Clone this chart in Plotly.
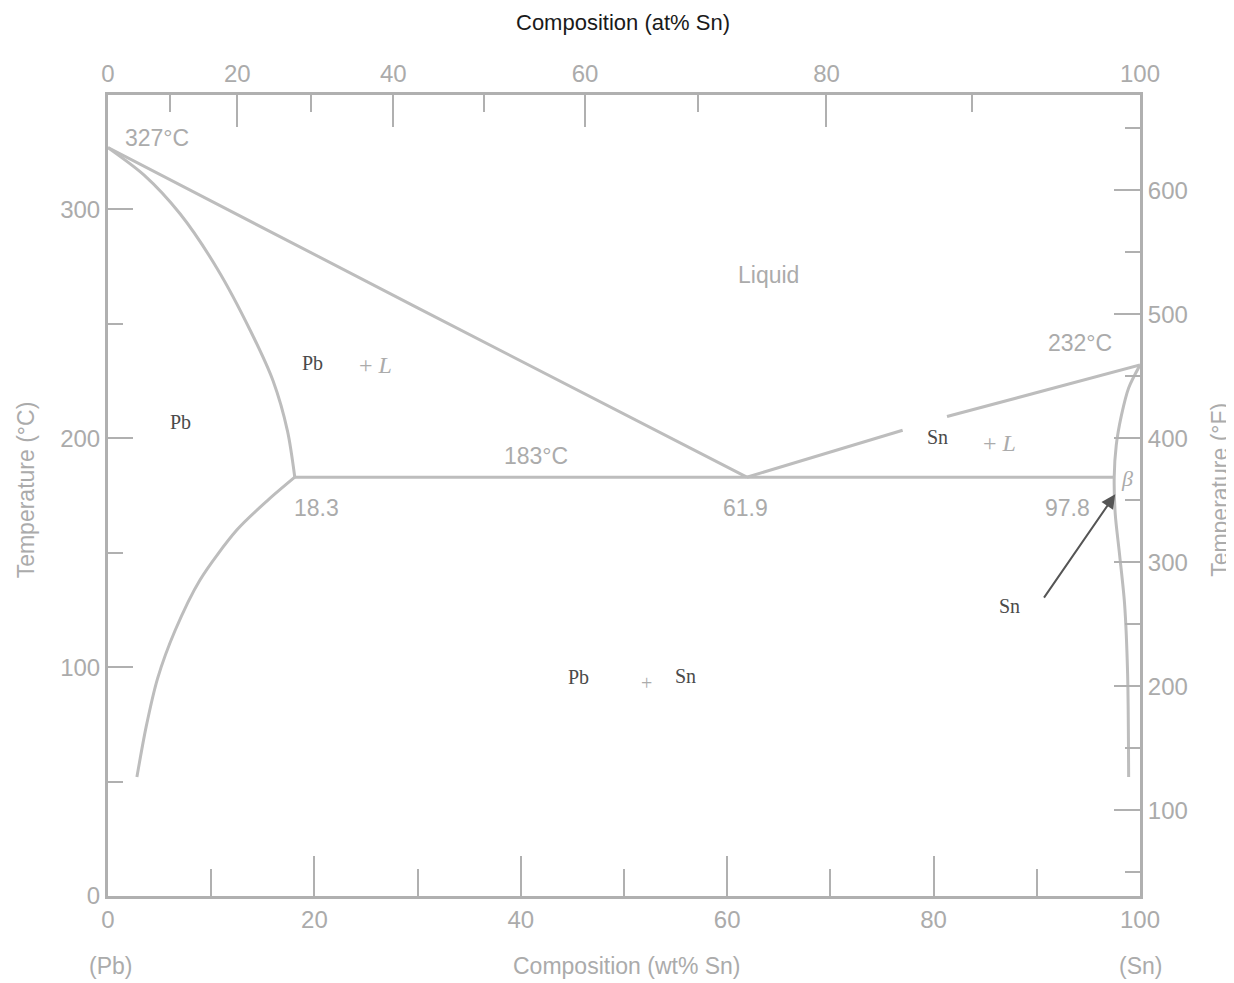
import plotly.graph_objects as go

# ---------------- data (wt% Sn, temperature °C) ----------------
liq_left_x = [0, 30, 61.9]
liq_left_t = [327, 257, 183]

sol_left_x = [0, 3.5, 7.0, 10.6, 13.8, 16.0, 17.4, 18.1]
sol_left_t = [327, 315, 298, 274, 247, 225, 203, 183]

solvus_left_x = [18.1, 15.5, 12.5, 8.9, 6.5, 4.8, 3.7, 2.8]
solvus_left_t = [183, 173, 160, 138, 116, 95, 74, 52]

eutectic_x = [18.1, 97.5]
eutectic_t = [183, 183]

liq_right_x = [61.9, 77, None, 81.3, 100]
liq_right_t = [183, 203.5, None, 209.5, 232]

sn_curve_x = [100, 98.9, 98.2, 97.7, 97.5, 97.6, 98.0, 98.5, 98.8, 98.9]
sn_curve_t = [232, 222, 210, 197, 183, 167, 150, 128, 97, 52]

at_pct_ticks = [0, 20, 40, 60, 80, 100]
at_pct_minor = [10, 30, 50, 70, 90]
M_SN, M_PB = 118.71, 207.2

degF_ticks = [100, 200, 300, 400, 500, 600]

def at_to_wt(a):
    return 100.0 * a * M_SN / (a * M_SN + (100 - a) * M_PB)

LINE = "#bdbdbd"
AXIS = "#b0b0b0"
TXT = "#ababab"
DARK = "#4a4a4a"

fig = go.Figure()
for xs, ts, shape in [(liq_left_x, liq_left_t, "linear"), (sol_left_x, sol_left_t, "spline"),
                      (solvus_left_x, solvus_left_t, "spline"), (eutectic_x, eutectic_t, "linear"),
                      (liq_right_x, liq_right_t, "linear"), (sn_curve_x, sn_curve_t, "spline")]:
    fig.add_trace(go.Scatter(x=xs, y=ts, mode="lines",
                             line=dict(color=LINE, width=3, shape=shape,
                                       smoothing=0.8 if shape == "spline" else None),
                             hoverinfo="skip", showlegend=False, connectgaps=False))

# dummy trace for secondary axes
fig.add_trace(go.Scatter(x=[0], y=[0], xaxis="x2", yaxis="y2", mode="markers",
                         marker=dict(opacity=0), showlegend=False, hoverinfo="skip"))

tickfont = dict(family="Liberation Sans, Arial", size=24, color=TXT)

fig.update_layout(
    width=1226, height=975,
    margin=dict(l=100, r=94, t=87, b=87),
    paper_bgcolor="white", plot_bgcolor="white",
    showlegend=False,
    xaxis=dict(range=[0, 100], tickvals=[0, 20, 40, 60, 80, 100], ticks="inside",
               ticklen=40, tickcolor=AXIS, tickwidth=2,
               minor=dict(dtick=10, ticklen=27, tickcolor=AXIS, tickwidth=2, ticks="inside"),
               showline=True, linecolor=AXIS, linewidth=3, showgrid=False, zeroline=False,
               tickfont=tickfont),
    xaxis2=dict(overlaying="x", side="top", range=[0, 100],
                tickvals=[at_to_wt(a) for a in at_pct_ticks],
                ticktext=[str(a) for a in at_pct_ticks], ticks="inside", ticklen=32,
                tickcolor=AXIS, tickwidth=2,
                minor=dict(tickvals=[at_to_wt(a) for a in at_pct_minor], ticklen=17,
                           tickcolor=AXIS, tickwidth=2, ticks="inside"),
                showline=True, linecolor=AXIS, linewidth=3, showgrid=False, zeroline=False,
                tickfont=tickfont),
    yaxis=dict(range=[0, 350], tickvals=[0, 100, 200, 300], ticks="inside", ticklen=25,
               tickcolor=AXIS, tickwidth=2,
               minor=dict(dtick=50, ticklen=15, tickcolor=AXIS, tickwidth=2, ticks="inside"),
               showline=True, linecolor=AXIS, linewidth=3, showgrid=False, zeroline=False,
               tickfont=tickfont),
    yaxis2=dict(overlaying="y", side="right", range=[31, 677], tickvals=degF_ticks,
                ticks="inside", ticklen=26, tickcolor=AXIS, tickwidth=2,
                minor=dict(dtick=50, tick0=0, ticklen=15, tickcolor=AXIS, tickwidth=2, ticks="inside"),
                showline=True, linecolor=AXIS, linewidth=3, showgrid=False, zeroline=False,
                tickfont=tickfont),
)

sans = "Liberation Sans, Arial"
serif = "Liberation Serif, Times New Roman"

def txt(x, y, s, size=23, color=TXT, family=sans):
    fig.add_annotation(x=x, y=y, xref="x", yref="y", text=s, showarrow=False,
                       font=dict(family=family, size=size, color=color))

txt(4.75, 331.4, "327°C")
txt(64.0, 271.2, "Liquid")
txt(19.8, 232.8, "Pb", 20, DARK, serif)
txt(25.9, 231.9, "+ <i>L</i>", 24, TXT, serif)
txt(7.0, 207, "Pb", 20, DARK, serif)
txt(41.5, 192.1, "183°C")
txt(20.25, 169.4, "18.3")
txt(61.8, 169.4, "61.9")
txt(93.0, 169.4, "97.8")
txt(94.2, 241.5, "232°C")
txt(80.4, 200.4, "Sn", 20, DARK, serif)
txt(86.4, 197.8, "+ <i>L</i>", 24, TXT, serif)
txt(45.6, 95.6, "Pb", 20, DARK, serif)
txt(52.2, 93.0, "+", 20, TXT, serif)
txt(56.0, 96.0, "Sn", 20, DARK, serif)
txt(98.7, 182.5, "<i>β</i>", 22, TXT, serif)
txt(87.4, 126.6, "Sn", 20, DARK, serif)

fig.add_annotation(x=97.6, y=175.5, ax=90.6, ay=129.7, xref="x", yref="y",
                   axref="x", ayref="y", text="", showarrow=True, arrowhead=2,
                   arrowsize=1.4, arrowwidth=2, arrowcolor="#555555")

def ptxt(x, y, s, color=TXT, angle=0, size=23):
    fig.add_annotation(x=x, y=y, xref="paper", yref="paper", text=s, showarrow=False,
                       textangle=angle, font=dict(family=sans, size=size, color=color),
                       xanchor="center", yanchor="middle")

ptxt(0.503, -0.087, "Composition (wt% Sn)")
ptxt(0.002, -0.087, "(Pb)")
ptxt(1.0, -0.087, "(Sn)")
ptxt(0.4995, 1.091, "Composition (at% Sn)", "#1a1a1a", 0, 22)
ptxt(-0.080, 0.507, "Temperature (°C)", TXT, -90)
ptxt(1.0775, 0.507, "Temperature (°F)", TXT, -90)

fig.write_html("out.html")
